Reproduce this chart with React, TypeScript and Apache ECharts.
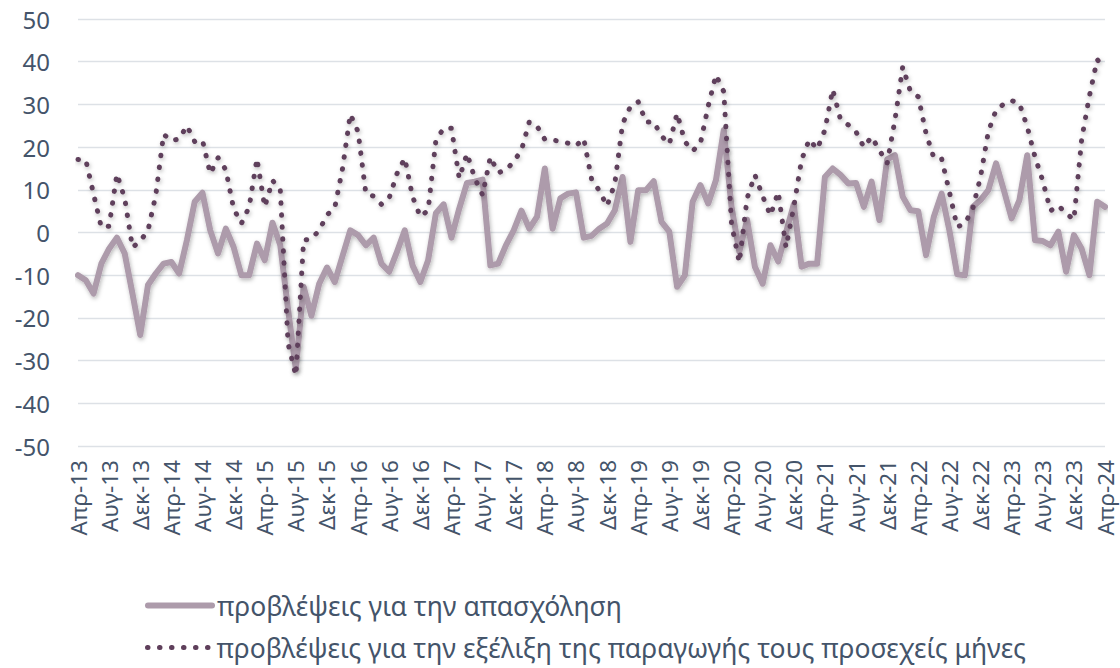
import React, { useEffect, useRef } from "react";
import * as echarts from "echarts";

const monthNames = ["Ιαν", "Φεβ", "Μαρ", "Απρ", "Μαϊ", "Ιουν", "Ιουλ", "Αυγ", "Σεπ", "Οκτ", "Νοε", "Δεκ"];
const startYear = 2013;
const startMonth = 3; // Απρ
const monthCount = 133;

const employment = [
  -10, -11.2, -14.3, -7.3, -3.8, -1.2, -4.9, -14.3, -24, -12.3, -9.6, -7.3,
  -6.9, -9.6, -1.8, 7.2, 9.3, 0.5, -4.9, 0.9, -3.4, -10, -10, -2.6,
  -6.5, 2.3, -3, -18, -32, -12.7, -19.5, -12, -8.2, -11.6, -5.5, 0.5,
  -0.6, -3, -1.2, -7.3, -9.2, -4.5, 0.5, -7.7, -11.6, -6.5, 4.5, 6.6,
  -1.2, 5.6, 11.6, 11.9, 12.4, -7.7, -7.3, -3, 0.5, 5.1, 0.9, 3.7,
  15, 0.9, 8, 9.1, 9.4, -1.2, -0.8, 0.9, 2.1, 5.2, 13, -2.2,
  9.9, 9.9, 12, 2.5, 0.2, -12.7, -10, 7.2, 11.1, 6.8, 12.3, 24,
  6, -4.5, 3, -8, -12, -3, -6.8, 0, 6.6, -8, -7.3, -7.3,
  13, 15, 13.5, 11.5, 11.6, 6, 11.9, 2.9, 17.1, 18.1, 8.4, 5.2,
  5, -5.3, 3.7, 9.1, 0.5, -9.8, -10, 6, 7.6, 9.9, 16.2, 9.9,
  3.3, 7.6, 18.1, -1.8, -2, -3, 0.2, -9.2, -0.6, -3.8, -10, 7.2,
  6,
];

const production = [
  17.1, 17, 9, 1.2, 1.5, 13.7, 8, -3.5, -2, 0.5, 8.8, 23,
  21.5, 21.9, 25, 21.3, 21.6, 13.8, 17.5, 14.7, 5.6, 2.1, 6, 17.3,
  6, 12.2, 10, -26, -33.5, -1.8, -1.5, 0.5, 4.1, 5.8, 15, 27.7,
  23.6, 9.1, 8.5, 6.6, 8.1, 13.8, 17.4, 8.4, 3.7, 5.2, 21.6, 24.4,
  24.4, 12.7, 18.5, 12.7, 8.8, 17.7, 14, 14.6, 16.6, 19.3, 25.9, 24.9,
  21.8, 21.6, 21.4, 20.9, 20.3, 22, 12.6, 9.8, 6.2, 11.5, 25.5, 29.5,
  30.6, 25.9, 25.9, 22.6, 20.7, 27.9, 21.3, 19.1, 20.9, 29.6, 36.9, 33,
  2, -7, 8, 13.5, 8.5, 4, 9.5, -3.5, 6, 17, 21.8, 19.5,
  24, 33.5, 26.5, 25.2, 23.6, 20, 22.4, 19.3, 16.2, 26.3, 38.8, 33,
  31.8, 23.2, 17.5, 17.3, 9.5, 1.3, 2.1, 5.6, 13, 23.6, 28.7, 30.1,
  30.9, 30.2, 24.8, 17.7, 12.1, 5.1, 6.3, 4.5, 3, 21.8, 32, 40.5,
  38.4,
];

const seriesNames = [
  "προβλέψεις για την απασχόληση",
  "προβλέψεις για την εξέλιξη της παραγωγής τους προσεχείς μήνες",
];

const categories: string[] = [];
for (let k = 0; k < monthCount; k++) {
  const m = (startMonth + k) % 12;
  const y = startYear + Math.floor((startMonth + k) / 12);
  categories.push(monthNames[m] + "-" + String(y % 100).padStart(2, "0"));
}

const FONT = "Noto Sans";
const TEXT = "#44546a";

const legendBase = {
  orient: "horizontal",
  left: 140,
  itemWidth: 64,
  itemHeight: 14,
  itemStyle: { opacity: 0 },
  textStyle: { fontSize: 26.5, color: TEXT, fontFamily: FONT },
};

export default function App() {
  const ref = useRef<HTMLDivElement>(null);
  useEffect(() => {
    if (!ref.current) return;
    const chart = echarts.init(ref.current, undefined, { renderer: "svg" });
    chart.setOption({
      animation: false,
      backgroundColor: "#ffffff",
      textStyle: { fontFamily: FONT },
      grid: { left: 78, right: 15, top: 19, bottom: 222, containLabel: false },
      legend: [
        { ...legendBase, top: 587, data: [seriesNames[0]], lineStyle: { width: 6 } },
        { ...legendBase, top: 629, data: [seriesNames[1]], lineStyle: { width: 5 } },
      ],
      xAxis: {
        type: "category",
        data: categories,
        boundaryGap: false,
        axisLine: { show: false },
        axisTick: { show: false },
        axisLabel: {
          interval: 3,
          rotate: 90,
          margin: 14,
          fontSize: 22.5,
          color: TEXT,
          fontFamily: FONT,
        },
        splitLine: { show: false },
      },
      yAxis: {
        type: "value",
        min: -50,
        max: 50,
        interval: 10,
        axisLine: { show: false },
        axisTick: { show: false },
        axisLabel: { fontSize: 24, color: TEXT, margin: 28, fontFamily: FONT },
        splitLine: { lineStyle: { color: "#dde1e6", width: 1.3 } },
      },
      series: [
        {
          name: seriesNames[0],
          type: "line",
          data: employment,
          symbol: "none",
          lineStyle: {
            color: "#ad9bab",
            width: 6,
            cap: "round",
            join: "round",
            shadowColor: "rgba(0,0,0,0.28)",
            shadowBlur: 4,
            shadowOffsetX: 1,
            shadowOffsetY: 2,
          },
          itemStyle: { color: "#ad9bab" },
        },
        {
          name: seriesNames[1],
          type: "line",
          data: production,
          symbol: "none",
          lineStyle: {
            color: "#5f3f5b",
            width: 5,
            type: [0.5, 11.5],
            cap: "round",
            join: "round",
            shadowColor: "rgba(0,0,0,0.28)",
            shadowBlur: 4,
            shadowOffsetX: 1,
            shadowOffsetY: 2,
          },
          itemStyle: { color: "#5f3f5b" },
        },
      ],
    });
    return () => chart.dispose();
  }, []);
  return (
    <div
      ref={ref}
      style={{ position: "fixed", left: 0, top: 0, width: 1120, height: 668 }}
    />
  );
}
